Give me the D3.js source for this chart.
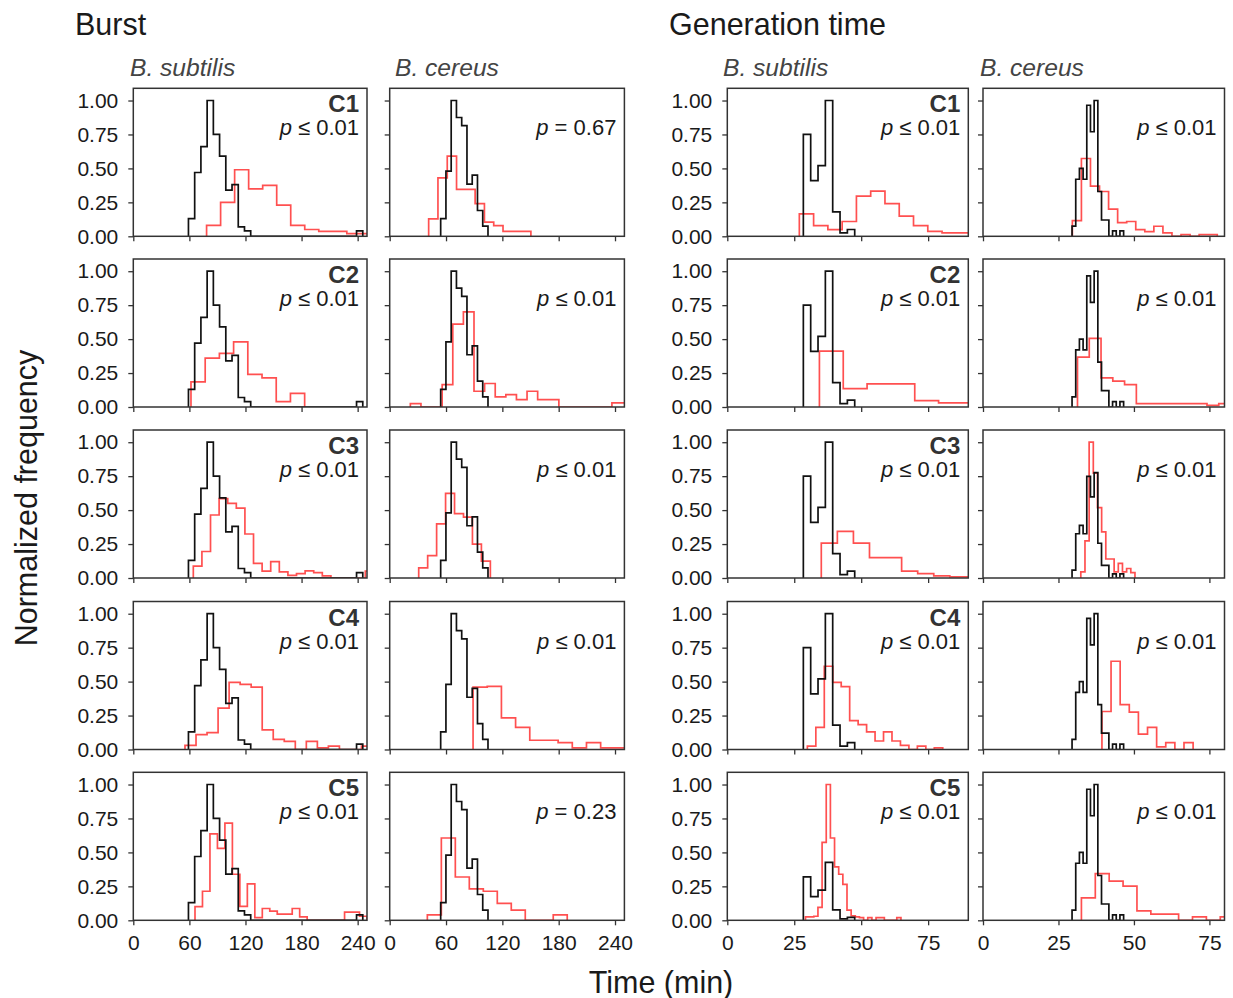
<!DOCTYPE html>
<html>
<head>
<meta charset="utf-8">
<script src="https://cdn.jsdelivr.net/npm/d3@7"></script>
<style>
  body { margin: 0; background: #fff; }
  text { font-family: "Liberation Sans", Arial, sans-serif; }
</style>
</head>
<body>
<div id="chart"></div>
<script>
// ---- data ----
var conditions = ["C1", "C2", "C3", "C4", "C5"];
var species = ["B. subtilis", "B. cereus", "B. subtilis", "B. cereus"];
var groupTitles = ["Burst", "Generation time"];
var burstTicks = [0, 60, 120, 180, 240];
var genTicks = [0, 25, 50, 75];
var freqTicks = [0, 0.25, 0.5, 0.75, 1.0];

var pBurstSubtilis = ["≤ 0.01", "≤ 0.01", "≤ 0.01", "≤ 0.01", "≤ 0.01"];
var pBurstCereus = ["= 0.67", "≤ 0.01", "≤ 0.01", "≤ 0.01", "= 0.23"];
var pGenSubtilis = ["≤ 0.01", "≤ 0.01", "≤ 0.01", "≤ 0.01", "≤ 0.01"];
var pGenCereus = ["≤ 0.01", "≤ 0.01", "≤ 0.01", "≤ 0.01", "≤ 0.01"];

// reference histograms (black): [first edge, bin width] + heights
var refBurstSubtilisBins = [59, 6.66];
var refBurstSubtilis = [0.13, 0.47, 0.66, 1.0, 0.75, 0.59, 0.34, 0.38, 0.07, 0.04,
  0, 0, 0, 0, 0, 0, 0, 0, 0, 0, 0, 0, 0, 0, 0, 0, 0, 0.04];
var refBurstCereusBins = [54.3, 5.6];
var refBurstCereus = [0.13, 0.48, 1.0, 0.875, 0.815, 0.385, 0.45, 0.19, 0.075];
var refGenSubtilisBins = [28.4, 2.74];
var refGenSubtilis = [0.75, 0.41, 0.52, 1.0, 0.18, 0.025, 0.05];
var refGenCereusBins = [29.5, 1.22];
var refGenCereus = [0.075, 0.42, 0.5, 0.42, 0.965, 0.77, 1.0, 0.33, 0.12, 0.12, 0, 0.04, 0, 0.04];

// peak of the black curve in each row (lower when the red one holds the max)
var refPeakBurstSubtilis = [1, 1, 1, 1, 1];
var refPeakBurstCereus = [1, 1, 1, 1, 1];
var refPeakGenSubtilis = [1, 1, 1, 1, 0.426];
var refPeakGenCereus = [1, 1, 0.776, 1, 1];

// condition histograms (red), C1..C5
var burstSubtilisBins = [[78.4, 15], [61.7, 15.2], [64.2, 9.2], [55.3, 11.8], [66, 8]];
var burstSubtilis = [
  [0.08, 0.25, 0.49, 0.35, 0.375, 0.23, 0.08, 0.05, 0.037, 0.037, 0.02, 0.02],
  [0.185, 0.36, 0.395, 0.48, 0.24, 0.215, 0.04, 0.10],
  [0.087, 0.195, 0.464, 0.584, 0.549, 0.514, 0.324, 0.107, 0.05, 0.12, 0.045, 0.02,
    0.032, 0.052, 0.04, 0.015, 0, 0, 0, 0, 0.05],
  [0.03, 0.11, 0.125, 0.305, 0.495, 0.48, 0.46, 0.145, 0.075, 0.06, 0, 0.06, 0.0125,
    0.025, 0, 0, 0.025],
  [0.1, 0.214, 0.636, 0.529, 0.716, 0.339, 0.102, 0.269, 0.02, 0.087, 0.067, 0.045,
    0.045, 0.087, 0.025, 0, 0, 0, 0, 0, 0.06, 0.06, 0.03]
];
var burstCereusBins = [[41.5, 9.9], [22, 11.3], [30.9, 9.54], [88.8, 15.1], [40.1, 14.9]];
var burstCereus = [
  [0.128, 0.43, 0.59, 0.346, 0.346, 0.24, 0.104, 0.079, 0.037, 0.037, 0.037],
  [0.025, 0, 0, 0.165, 0.61, 0.70, 0.116, 0.173, 0.074, 0.091, 0.054, 0.116, 0.054,
    0.054, 0, 0, 0, 0, 0, 0.03, 0.03],
  [0.075, 0.165, 0.399, 0.623, 0.474, 0.449, 0.249, 0.125],
  [0.46, 0.465, 0.233, 0.163, 0.068, 0.068, 0.05, 0.0125, 0.05, 0.0125, 0.0125],
  [0.04, 0.606, 0.319, 0.232, 0.214, 0.125, 0.075, 0, 0, 0.04]
];
var genSubtilisBins = [[26.9, 5.33], [34.4, 8.9], [35.1, 6], [29.9, 3.16], [29.2, 1.55]];
var genSubtilis = [
  [0.165, 0.079, 0.049, 0.109, 0.296, 0.333, 0.24, 0.148, 0.079, 0.037, 0.025, 0.025],
  [0.412, 0.136, 0.17, 0.17, 0.047, 0.03, 0.03],
  [0.257, 0.344, 0.257, 0.15, 0.15, 0.05, 0.032, 0.015, 0.008, 0.008],
  [0.025, 0.163, 0.613, 0.495, 0.463, 0.213, 0.183, 0.13, 0.0625, 0.13, 0.0625, 0.03,
    0, 0.025, 0, 0.0125],
  [0.025, 0.025, 0.03, 0.095, 0.574, 1.0, 0.606, 0.394, 0.339, 0.264, 0.075, 0.032,
    0.025, 0.02, 0, 0.02, 0, 0.02, 0.02, 0, 0, 0, 0.02]
];
var genCereusBins = [[29.6, 3.0], [31.3, 3.9], [32.4, 1.38], [39.4, 3.02], [32.6, 4.6]];
var genCereus = [
  [0.116, 0.573, 0.37, 0.33, 0.2, 0.1, 0.109, 0.049, 0.035, 0.074, 0.025, 0, 0.012, 0,
    0.012, 0.012],
  [0.368, 0.506, 0.215, 0.19, 0.165, 0.025, 0.025, 0.025, 0.025, 0.025, 0.025, 0.012, 0.025],
  [0.045, 0.274, 1.0, 0.773, 0.519, 0.339, 0.14, 0.14, 0.045, 0.107, 0.045, 0.07, 0.04],
  [0.28, 0.65, 0.33, 0.275, 0.113, 0.163, 0.02, 0.05, 0, 0.05],
  [0.165, 0.344, 0.289, 0.252, 0.07, 0.045, 0.045, 0, 0.025, 0, 0.025]
];

// ---- layout ----
var svgWidth = 1233, svgHeight = 998;
var colLeft = [133.3, 389.7, 727.3, 983];
var colWidth = [233.7, 234.7, 241, 241.5];
var rowTop = [88.3, 259, 430, 601.5, 772.3];
var rowH = 148;
var red = "#ff5050";

var columns = [
  { domain: [0, 250], ticks: burstTicks, refBins: refBurstSubtilisBins, ref: refBurstSubtilis,
    refPeak: refPeakBurstSubtilis, bins: burstSubtilisBins, cond: burstSubtilis, p: pBurstSubtilis, tag: true },
  { domain: [0, 250], ticks: burstTicks, refBins: refBurstCereusBins, ref: refBurstCereus,
    refPeak: refPeakBurstCereus, bins: burstCereusBins, cond: burstCereus, p: pBurstCereus, tag: false },
  { domain: [0, 90], ticks: genTicks, refBins: refGenSubtilisBins, ref: refGenSubtilis,
    refPeak: refPeakGenSubtilis, bins: genSubtilisBins, cond: genSubtilis, p: pGenSubtilis, tag: true },
  { domain: [0, 80], ticks: genTicks, refBins: refGenCereusBins, ref: refGenCereus,
    refPeak: refPeakGenCereus, bins: genCereusBins, cond: genCereus, p: pGenCereus, tag: false }
];

var svg = d3.select("#chart")
  .append("svg")
  .attr("width", svgWidth)
  .attr("height", svgHeight);

var defs = svg.append("defs");

// step outline like matplotlib histtype="step"
function stepPoints(bins, heights, k) {
  var pts = [[bins[0], 0]];
  heights.forEach(function(h, i) {
    var a = bins[0] + i * bins[1];
    pts.push([a, h * k], [a + bins[1], h * k]);
  });
  pts.push([bins[0] + heights.length * bins[1], 0]);
  return pts;
}

columns.forEach(function(col, c) {
  var x = d3.scaleLinear()
    .domain(col.domain)
    .range([colLeft[c], colLeft[c] + colWidth[c]]);

  conditions.forEach(function(cond, r) {
    var y = d3.scaleLinear()
      .domain([0, 1.09])
      .range([rowTop[r] + rowH, rowTop[r]]);

    var clipId = "clip-" + c + "-" + r;
    defs.append("clipPath").attr("id", clipId)
      .append("rect")
      .attr("x", colLeft[c]).attr("y", rowTop[r])
      .attr("width", colWidth[c]).attr("height", rowH);

    var line = d3.line()
      .x(function(d) { return x(d[0]); })
      .y(function(d) { return y(d[1]); });

    var g = svg.append("g").attr("clip-path", "url(#" + clipId + ")");

    g.append("path")
      .attr("d", line(stepPoints(col.bins[r], col.cond[r], 1)))
      .attr("fill", "none")
      .attr("stroke", red)
      .attr("stroke-width", 1.7);

    g.append("path")
      .attr("d", line(stepPoints(col.refBins, col.ref, col.refPeak[r])))
      .attr("fill", "none")
      .attr("stroke", "#111")
      .attr("stroke-width", 1.7);

    // frame
    svg.append("rect")
      .attr("x", colLeft[c]).attr("y", rowTop[r])
      .attr("width", colWidth[c]).attr("height", rowH)
      .attr("fill", "none")
      .attr("stroke", "#333")
      .attr("stroke-width", 1.5);

    // axes
    var leftAxis = d3.axisLeft(y)
      .tickValues(freqTicks)
      .tickSizeInner(5).tickSizeOuter(0).tickPadding(10)
      .tickFormat(c % 2 === 0 ? d3.format(".2f") : "");
    var yg = svg.append("g")
      .attr("transform", "translate(" + colLeft[c] + ",0)")
      .call(leftAxis);

    var bottomAxis = d3.axisBottom(x)
      .tickValues(col.ticks)
      .tickSizeInner(5).tickSizeOuter(0).tickPadding(10)
      .tickFormat(r === conditions.length - 1 ? d3.format("d") : "");
    var xg = svg.append("g")
      .attr("transform", "translate(0," + (rowTop[r] + rowH) + ")")
      .call(bottomAxis);

    [yg, xg].forEach(function(a) {
      a.select(".domain").remove();
      a.selectAll(".tick line").attr("stroke", "#333").attr("stroke-width", 1.3);
      a.selectAll(".tick text")
        .attr("fill", "#1a1a1a")
        .style("font-size", "21px")
        .style("font-family", "'Liberation Sans', Arial, sans-serif");
    });

    var right = colLeft[c] + colWidth[c] - 8;
    if (col.tag) {
      svg.append("text")
        .attr("x", right).attr("y", rowTop[r] + 24)
        .attr("text-anchor", "end")
        .attr("fill", "#333")
        .style("font-size", "24px")
        .style("font-weight", "bold")
        .text(cond);
    }
    var pt = svg.append("text")
      .attr("x", right).attr("y", rowTop[r] + 47)
      .attr("text-anchor", "end")
      .attr("fill", "#1a1a1a")
      .style("font-size", "22px");
    pt.append("tspan").style("font-style", "italic").text("p");
    pt.append("tspan").text(" " + col.p[r]);
  });
});

// titles
var titleX = [75, 669];
groupTitles.forEach(function(t, i) {
  svg.append("text")
    .attr("x", titleX[i]).attr("y", 35)
    .attr("fill", "#1a1a1a")
    .style("font-size", "30.5px")
    .text(t);
});

var speciesX = [130, 395, 723, 980];
species.forEach(function(s, i) {
  svg.append("text")
    .attr("x", speciesX[i]).attr("y", 76)
    .attr("fill", "#444")
    .style("font-size", "24.6px")
    .style("font-style", "italic")
    .text(s);
});

// axis labels
svg.append("text")
  .attr("transform", "translate(37, 498) rotate(-90)")
  .attr("text-anchor", "middle")
  .attr("fill", "#1a1a1a")
  .style("font-size", "30.5px")
  .text("Normalized frequency");

svg.append("text")
  .attr("x", 661).attr("y", 993)
  .attr("text-anchor", "middle")
  .attr("fill", "#1a1a1a")
  .style("font-size", "30.5px")
  .text("Time (min)");
</script>
</body>
</html>
